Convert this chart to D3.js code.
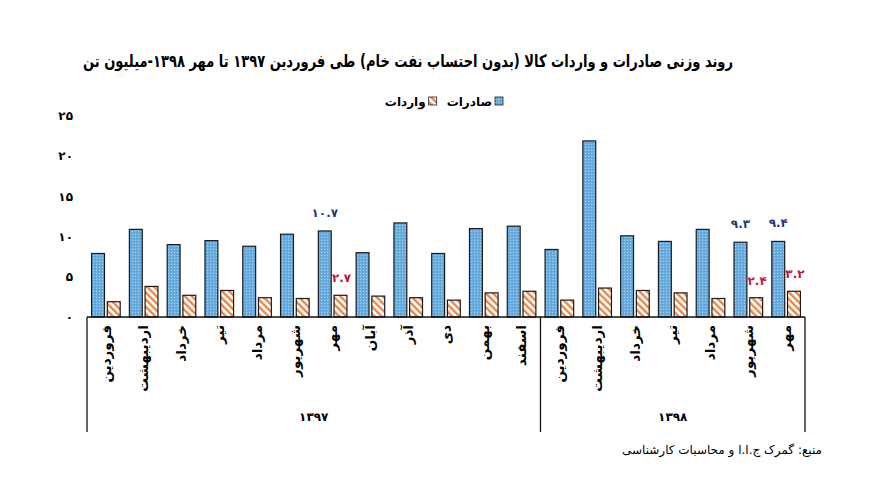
<!DOCTYPE html>
<html>
<head>
<meta charset="utf-8">
<script src="https://cdn.jsdelivr.net/npm/d3@7"></script>
<style>
  body { margin: 0; background: #fff; }
  svg { display: block; }
  text { font-family: "DejaVu Sans", sans-serif; }
  .fa { direction: rtl; unicode-bidi: embed; }
</style>
</head>
<body>
<div id="chart"></div>
<script>
// months, Farvardin 1397 .. Mehr 1398
var months = ["فروردین", "اردیبهشت", "خرداد", "تیر", "مرداد", "شهریور", "مهر",
	"آبان", "آذر", "دی", "بهمن", "اسفند",
	"فروردین", "اردیبهشت", "خرداد", "تیر", "مرداد", "شهریور", "مهر"];
var years = [
	{ label: "۱۳۹۷", from: 0, to: 12 },
	{ label: "۱۳۹۸", from: 12, to: 19 }
];
// million tonnes
var exportsT = [7.9, 10.9, 9.0, 9.5, 8.8, 10.3, 10.7, 8.0, 11.7, 7.9, 11.0, 11.3,
	8.4, 21.9, 10.1, 9.4, 10.9, 9.3, 9.4];
var importsT = [1.9, 3.8, 2.7, 3.3, 2.4, 2.3, 2.7, 2.6, 2.4, 2.1, 3.0, 3.2,
	2.1, 3.6, 3.3, 3.0, 2.3, 2.4, 3.2];
var labelled = [6, 17, 18];
var yTicks = [0, 5, 10, 15, 20, 25];
var seriesNames = ["صادرات", "واردات"];
var title = "روند وزنی صادرات و واردات کالا (بدون احتساب نفت خام) طی فروردین ۱۳۹۷ تا مهر ۱۳۹۸-میلیون تن";
var source = "منبع: گمرک ج.ا.ا و محاسبات کارشناسی";

var width = 869, height = 489;
var plotLeft = 87, plotRight = 805, plotBase = 317, plotTop = 116;

function fa(s) {
	return String(s).replace(/[0-9]/g, function (d) { return "۰۱۲۳۴۵۶۷۸۹"[+d]; });
}

var x = d3.scaleBand().domain(d3.range(months.length)).range([plotLeft, plotRight]);
var x1 = d3.scaleBand().domain(["exp", "imp"])
	.range([4.6, x.bandwidth() - 4.6]).paddingInner(0.18);
var y = d3.scaleLinear().domain([0, 25]).range([plotBase, plotTop]);

var svg = d3.select("#chart").append("svg")
	.attr("width", width).attr("height", height);

var defs = svg.append("defs");
var dots = defs.append("pattern").attr("id", "blue")
	.attr("width", 3).attr("height", 3).attr("patternUnits", "userSpaceOnUse");
dots.append("rect").attr("width", 3).attr("height", 3).attr("fill", "#6aaedf");
dots.append("rect").attr("width", 1).attr("height", 1).attr("fill", "#a6d0ee");
dots.append("rect").attr("x", 2).attr("y", 1).attr("width", 1).attr("height", 1)
	.attr("fill", "#5599cd");
var stripes = defs.append("pattern").attr("id", "orange")
	.attr("width", 5).attr("height", 5).attr("patternUnits", "userSpaceOnUse")
	.attr("patternTransform", "rotate(-45)");
stripes.append("rect").attr("width", 5).attr("height", 5).attr("fill", "#fff");
stripes.append("rect").attr("width", 2.4).attr("height", 5).attr("fill", "#e8874a");

// title
svg.append("text").attr("class", "fa")
	.attr("x", 408).attr("y", 67)
	.attr("text-anchor", "middle")
	.attr("font-size", 17).attr("font-weight", "bold")
	.attr("textLength", 650).attr("lengthAdjust", "spacingAndGlyphs")
	.text(title);

// legend, laid out right to left
var lg = svg.append("g").attr("font-size", 12).attr("font-weight", "bold");
var lx = 503;
[{ name: seriesNames[0], fill: "url(#blue)" }, { name: seriesNames[1], fill: "url(#orange)" }]
	.forEach(function (s) {
		lg.append("rect").attr("x", lx - 8).attr("y", 97).attr("width", 8).attr("height", 8)
			.attr("fill", s.fill).attr("stroke", "#222").attr("stroke-width", 0.8);
		var t = lg.append("text").attr("class", "fa")
			.attr("x", lx - 11).attr("y", 105.5).attr("text-anchor", "start")
			.text(s.name);
		lx = lx - 11 - t.node().getComputedTextLength() - 10;
	});

// y tick labels, no axis line
svg.append("g").selectAll("text").data(yTicks).join("text")
	.attr("x", 73).attr("y", function (d) { return y(d); })
	.attr("dy", "0.35em").attr("text-anchor", "end")
	.attr("font-size", 12).attr("font-weight", "bold")
	.text(fa);

// bars
var g = svg.append("g").attr("stroke", "#1a1a1a").attr("stroke-width", 1.2);
g.selectAll("rect.exp").data(exportsT).join("rect").attr("class", "exp")
	.attr("x", function (d, i) { return x(i) + x1("exp"); })
	.attr("y", function (d) { return y(d); })
	.attr("width", x1.bandwidth())
	.attr("height", function (d) { return plotBase - y(d); })
	.attr("fill", "url(#blue)");
g.selectAll("rect.imp").data(importsT).join("rect").attr("class", "imp")
	.attr("x", function (d, i) { return x(i) + x1("imp"); })
	.attr("y", function (d) { return y(d); })
	.attr("width", x1.bandwidth())
	.attr("height", function (d) { return plotBase - y(d); })
	.attr("fill", "url(#orange)");

// value labels
var vl = svg.append("g").attr("font-size", 12).attr("font-weight", "bold")
	.attr("text-anchor", "middle");
labelled.forEach(function (i) {
	vl.append("text")
		.attr("x", x(i) + x1("exp") + x1.bandwidth() / 2)
		.attr("y", y(exportsT[i]) - 14)
		.attr("fill", "#1f3a78")
		.text(fa(exportsT[i].toFixed(1)));
	vl.append("text")
		.attr("x", x(i) + x1("imp") + x1.bandwidth() / 2 + 1)
		.attr("y", y(importsT[i]) - 13)
		.attr("fill", "#c0163a")
		.text(fa(importsT[i].toFixed(1)));
});

// category frame
var frame = svg.append("g").attr("stroke", "#111").attr("stroke-width", 1.3);
frame.append("line").attr("x1", plotLeft).attr("x2", plotRight)
	.attr("y1", plotBase).attr("y2", plotBase);
var cuts = [0].concat(years.map(function (yr) { return yr.to; }));
frame.selectAll("line.cut").data(cuts).join("line").attr("class", "cut")
	.attr("x1", function (i) { return i < months.length ? x(i) : plotRight; })
	.attr("x2", function (i) { return i < months.length ? x(i) : plotRight; })
	.attr("y1", plotBase).attr("y2", 432);

// month labels, rotated
svg.append("g").selectAll("text").data(months).join("text")
	.attr("class", "fa")
	.attr("transform", function (d, i) {
		return "translate(" + (x(i) + x.bandwidth() / 2) + "," + 325 + ") rotate(-90)";
	})
	.attr("dy", "0.35em").attr("text-anchor", "start")
	.attr("font-size", 13.5).attr("font-weight", "bold")
	.text(function (d) { return d; });

// year labels
svg.append("g").selectAll("text").data(years).join("text")
	.attr("x", function (d) { return (x(d.from) + (d.to < months.length ? x(d.to) : plotRight)) / 2; })
	.attr("y", 421).attr("text-anchor", "middle")
	.attr("font-size", 12).attr("font-weight", "bold")
	.text(function (d) { return d.label; });

// source note
svg.append("text").attr("class", "fa")
	.attr("x", 822).attr("y", 454).attr("text-anchor", "start")
	.attr("font-size", 12)
	.text(source);
</script>
</body>
</html>
